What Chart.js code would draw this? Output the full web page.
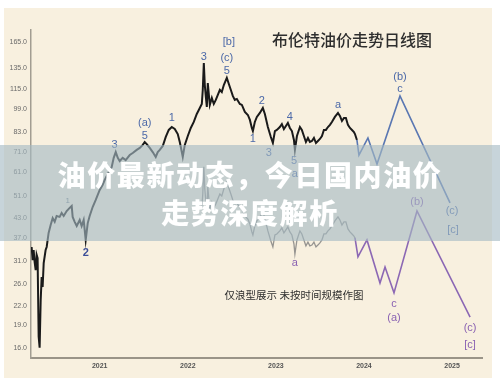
<!DOCTYPE html>
<html>
<head>
<meta charset="utf-8">
<script src="https://cdn.jsdelivr.net/npm/chart.js@4.4.1/dist/chart.umd.min.js"></script>
<style>
	body { margin: 0; background: #fff; }
	#wrap { position: relative; width: 500px; height: 387px; }
	#banner {
		position: absolute; left: 0; top: 145px; width: 500px; height: 96px;
		box-sizing: border-box; padding-top: 10px;
		background: rgba(165, 185, 195, 0.62);
		color: #fff; text-align: center; line-height: 38px;
		font-family: "Noto Sans CJK SC", sans-serif; font-weight: 900; font-size: 28px;
		letter-spacing: 1.6px;
	}
</style>
</head>
<body>
<div id="wrap">
	<canvas id="oilChart" width="500" height="387"></canvas>
	<div id="banner"><div>油价最新动态，今日国内油价</div><div>走势深度解析</div></div>
</div>
<script>
var yTicks = [16, 19, 22, 26, 31, 37, 43, 51, 61, 71, 83, 99, 115, 135, 165];
var xTicks = [2021, 2022, 2023, 2024, 2025];

// Brent daily price (traced)
var priceYears = [
	2020.227, 2020.239, 2020.250, 2020.261, 2020.273, 2020.284, 2020.295, 2020.307, 2020.318, 2020.330,
	2020.341, 2020.352, 2020.364, 2020.386, 2020.398, 2020.409, 2020.420, 2020.443, 2020.466, 2020.489,
	2020.511, 2020.545, 2020.568, 2020.591, 2020.625, 2020.659, 2020.682, 2020.693, 2020.716, 2020.739,
	2020.773, 2020.795, 2020.818, 2020.841, 2020.864, 2020.886, 2020.920, 2020.955, 2021.000, 2021.034,
	2021.057, 2021.091, 2021.136, 2021.159, 2021.182, 2021.205, 2021.227, 2021.261, 2021.295, 2021.341,
	2021.375, 2021.420, 2021.455, 2021.489, 2021.511, 2021.534, 2021.568, 2021.602, 2021.636, 2021.659,
	2021.682, 2021.716, 2021.750, 2021.784, 2021.818, 2021.852, 2021.886, 2021.909, 2021.932, 2021.943,
	2021.966, 2022.000, 2022.034, 2022.068, 2022.102, 2022.125, 2022.159, 2022.170, 2022.182, 2022.193,
	2022.205, 2022.216, 2022.227, 2022.250, 2022.273, 2022.295, 2022.318, 2022.341, 2022.364, 2022.386,
	2022.409, 2022.443, 2022.466, 2022.489, 2022.511, 2022.534, 2022.557, 2022.591, 2022.614, 2022.648,
	2022.682, 2022.705, 2022.727, 2022.739, 2022.761, 2022.784, 2022.818, 2022.852, 2022.875, 2022.909,
	2022.943, 2022.966, 2022.989, 2023.011, 2023.045, 2023.068, 2023.091, 2023.114, 2023.136, 2023.159,
	2023.182, 2023.205, 2023.216, 2023.239, 2023.273, 2023.295, 2023.318, 2023.341, 2023.364, 2023.386,
	2023.409, 2023.432, 2023.455, 2023.477, 2023.500, 2023.523, 2023.545, 2023.568, 2023.591, 2023.614,
	2023.636, 2023.670, 2023.705, 2023.727, 2023.750, 2023.773, 2023.795, 2023.818, 2023.841, 2023.864,
	2023.886, 2023.898, 2023.920
];
var priceValues = [
	34.5, 31.2, 33.7, 30.8, 28.9, 32.5, 31.7, 17.4, 16.0, 23.0,
	27.4, 25.4, 30.5, 33.7, 34.5, 36.4, 38.4, 40.8, 43.0, 41.8,
	43.7, 43.4, 44.7, 43.7, 45.4, 46.5, 47.2, 43.4, 41.8, 40.5,
	42.4, 40.5, 42.4, 36.4, 41.4, 43.7, 46.8, 49.4, 53.3, 55.4,
	57.6, 60.2, 63.5, 68.1, 71.2, 68.1, 66.5, 68.1, 67.0, 69.6,
	70.7, 72.4, 73.5, 75.2, 76.9, 75.7, 73.5, 71.2, 68.6, 71.2,
	72.4, 74.6, 79.9, 84.3, 86.2, 84.9, 81.7, 76.9, 71.2, 68.6,
	75.2, 80.5, 85.6, 89.6, 95.2, 98.2, 102.8, 114.4, 140.6, 118.8,
	108.4, 100.5, 120.6, 102.0, 107.6, 102.8, 106.0, 110.1, 114.4, 112.6,
	118.8, 125.4, 119.7, 114.4, 109.3, 106.0, 106.8, 102.8, 102.0, 96.7,
	94.5, 91.0, 85.6, 83.6, 89.6, 93.1, 96.0, 99.7, 95.2, 86.2,
	79.9, 76.3, 83.6, 84.3, 86.2, 88.2, 84.9, 86.9, 88.9, 85.6,
	83.6, 78.1, 72.4, 80.5, 86.2, 84.3, 80.5, 76.9, 79.3, 76.9,
	77.5, 79.3, 76.3, 77.5, 78.7, 80.5, 84.3, 84.3, 86.2, 87.6,
	89.6, 93.1, 96.0, 93.8, 90.3, 92.4, 92.4, 87.6, 85.6, 84.3,
	83.0, 81.7, 78.1
];

// faded lower copy of the wave, 2022 - 2023
var lowerYears = priceYears.slice(76, 152);
var lowerValues = [
	46.5, 51.7, 63.6, 53.7, 49.0, 45.4, 54.5, 46.1, 48.6, 46.5,
	47.9, 49.8, 51.7, 50.9, 53.7, 56.7, 54.1, 51.7, 49.4, 47.9,
	48.3, 46.5, 46.1, 43.7, 42.7, 41.1, 38.7, 37.8, 40.5, 42.1,
	43.4, 45.1, 43.0, 39.0, 36.1, 34.5, 37.8, 38.1, 39.0, 39.9,
	38.4, 39.3, 40.2, 38.7, 37.8, 35.3, 32.7, 36.4, 39.0, 38.1,
	36.4, 34.8, 35.8, 34.8, 35.0, 35.8, 34.5, 35.0, 35.6, 36.4,
	38.1, 38.1, 39.0, 39.6, 40.5, 42.1, 43.4, 42.4, 40.8, 41.8,
	41.8, 39.6, 38.7, 38.1, 37.5, 36.9
];

// projected paths
var blueYears = [2023.920, 2023.943, 2024.045, 2024.148, 2024.409, 2024.977];
var blueValues = [78.1, 69.6, 79.3, 65.0, 109.3, 48.3];
var purpleYears = [2023.898, 2023.932, 2024.034, 2024.182, 2024.239, 2024.341, 2024.602, 2025.205];
var purpleValues = [37.0, 32.0, 36.4, 26.2, 29.6, 24.3, 45.4, 20.2];

// wave labels
var blueLabels = ['3', '(a)', '5', '1', '3', '[b]', '(c)', '5', '1', '2', '3', '4', '5', 'a', 'a', '(b)', 'c', '(c)', '[c]'];
var blueLabelYears = [2021.170, 2021.511, 2021.511, 2021.818, 2022.182, 2022.466, 2022.443, 2022.443, 2022.739, 2022.841, 2022.920, 2023.159, 2023.205, 2023.216, 2023.705, 2024.409, 2024.409, 2025.000, 2025.011];
var blueLabelValues = [75.2, 88.9, 80.5, 92.4, 147.1, 165.0, 146.0, 132.2, 78.7, 105.2, 70.7, 93.1, 66.5, 60.2, 102.0, 126.3, 115.3, 45.4, 39.3];
var purpleLabels = ['a', 'c', '(a)', '(b)', '(c)', '[c]'];
var purpleLabelYears = [2023.216, 2024.341, 2024.341, 2024.602, 2025.205, 2025.205];
var purpleLabelValues = [30.5, 22.3, 20.1, 48.7, 18.6, 16.3];
var minorLabels = ['1', '2'];
var minorLabelYears = [2020.636, 2020.841];
var minorLabelValues = [49.0, 33.0];

function toPoints(xs, ys)
{
	var pts = [];
	for (var i = 0; i < ys.length; i++)
	{
		pts.push({x: xs[i], y: ys[i]});
	}
	return pts;
}

var decor = {
	id: 'decor',
	beforeDraw: function(chart)
	{
		var ctx = chart.ctx;
		ctx.save();
		ctx.fillStyle = '#ffffff';
		ctx.fillRect(0, 0, 500, 387);
		ctx.fillStyle = '#f8f0df';
		ctx.fillRect(4, 8, 488, 370);
		ctx.fillStyle = '#2e2e2e';
		ctx.textAlign = 'center';
		ctx.textBaseline = 'middle';
		ctx.font = '500 16px "Noto Sans CJK SC"';
		ctx.fillText('布伦特油价走势日线图', 352, 40);
		ctx.font = '10.5px "Noto Sans CJK SC"';
		ctx.fillText('仅浪型展示 未按时间规模作图', 294, 295);
		ctx.restore();
	},
	afterDatasetsDraw: function(chart)
	{
		var ctx = chart.ctx;
		var xs = chart.scales.x, ys = chart.scales.y;
		ctx.save();
		ctx.textAlign = 'center';
		ctx.textBaseline = 'middle';
		function put(texts, yrs, vals, font, color)
		{
			ctx.font = font;
			ctx.fillStyle = color;
			for (var i = 0; i < texts.length; i++)
			{
				ctx.fillText(texts[i], xs.getPixelForValue(yrs[i]), ys.getPixelForValue(vals[i]));
			}
		}
		put(blueLabels, blueLabelYears, blueLabelValues, '11px "Liberation Sans"', '#4c69a8');
		put(purpleLabels, purpleLabelYears, purpleLabelValues, '11px "Liberation Sans"', '#8a62b2');
		put(minorLabels.slice(0, 1), minorLabelYears.slice(0, 1), minorLabelValues.slice(0, 1), '8px "Liberation Sans"', '#6f7f8c');
		put(minorLabels.slice(1), minorLabelYears.slice(1), minorLabelValues.slice(1), 'bold 11px "Liberation Sans"', '#3d4f98');
		ctx.restore();
	}
};

var ctx = document.getElementById('oilChart').getContext('2d');
var oilChart = new Chart(ctx, {
	type: 'line',
	data: {
		datasets: [
			{ data: toPoints(lowerYears, lowerValues), borderColor: 'rgba(125,125,125,0.8)', borderWidth: 1.3 },
			{ data: toPoints(blueYears, blueValues), borderColor: '#5a77b2', borderWidth: 1.6 },
			{ data: toPoints(purpleYears, purpleValues), borderColor: '#8c68b4', borderWidth: 1.6 },
			{ data: toPoints(priceYears, priceValues), borderColor: '#1a1a1a', borderWidth: 2 }
		]
	},
	options: {
		responsive: false,
		animation: false,
		devicePixelRatio: 1,
		layout: { padding: { left: 0, top: 30, right: 18, bottom: 0 } },
		elements: { point: { radius: 0 }, line: { tension: 0 } },
		plugins: { legend: { display: false }, tooltip: { enabled: false } },
		scales: {
			x: {
				type: 'linear',
				min: 2020.22,
				max: 2025.34,
				afterFit: function(s) { s.height = 29; },
				afterBuildTicks: function(s) { s.ticks = xTicks.map(function(v) { return {value: v}; }); },
				grid: { display: false, drawTicks: false },
				border: { display: true, color: '#9a9488', width: 2 },
				ticks: {
					padding: 4,
					color: '#555',
					font: { family: 'Liberation Sans', size: 7, weight: 'bold' },
					callback: function(v) { return String(v); }
				}
			},
			y: {
				type: 'logarithmic',
				min: 14.78,
				max: 180.8,
				afterFit: function(s) { s.width = 31; },
				afterBuildTicks: function(s) { s.ticks = yTicks.map(function(v) { return {value: v}; }); },
				grid: { display: false, drawTicks: false },
				border: { display: true, color: '#a29d92', width: 1.5 },
				ticks: {
					padding: 4,
					color: '#6a6a6a',
					font: { family: 'Liberation Sans', size: 7 },
					callback: function(v) { return Number(v).toFixed(1); }
				}
			}
		}
	},
	plugins: [decor]
});
</script>
</body>
</html>
